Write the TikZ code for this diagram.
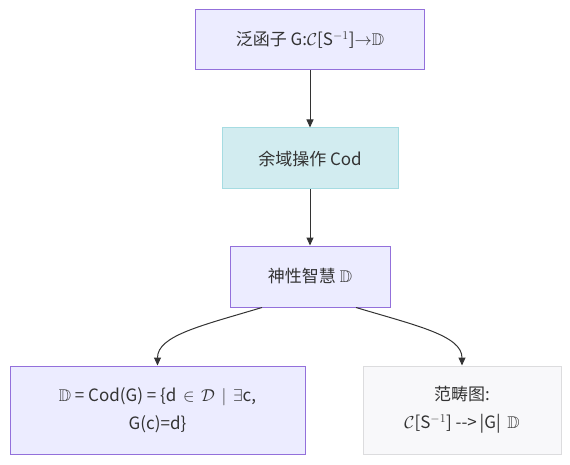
\documentclass[tikz,border=0pt]{standalone}
\usepackage{amssymb}
\usepackage{fontspec}
\setmainfont{Noto Sans CJK SC}
\usetikzlibrary{arrows.meta}
\definecolor{purpfill}{HTML}{ECECFF}
\definecolor{purpline}{HTML}{9370DB}
\definecolor{cyanfill}{HTML}{D2ECF0}
\definecolor{cyanline}{HTML}{A6DCE2}
\definecolor{grayfill}{HTML}{F8F8FA}
\definecolor{grayline}{HTML}{DCDCDE}
\definecolor{arrowc}{HTML}{333333}
\definecolor{textc}{HTML}{333333}
\tikzset{
  box/.style={draw=purpline, fill=purpfill, line width=1pt, inner sep=0pt, align=center, text=textc, font=\fontsize{17}{28}\selectfont},
  cbox/.style={box, draw=cyanline, fill=cyanfill},
  gbox/.style={box, draw=grayline, fill=grayfill},
  arr/.style={draw=arrowc, line width=1pt, -{Triangle[length=8pt,width=7pt]}},
}
\begin{document}
\begin{tikzpicture}[x=1pt,y=-1pt]
\useasboundingbox (0,0) rectangle (570,465);
\node[box, minimum width=229pt, minimum height=60pt] (n1) at (310,40) {泛函子 G:$\mathcal{C}$[S$^{-1}$]$\mathord{\rightarrow}\mathbb{D}$};
\node[cbox, minimum width=176pt, minimum height=61pt] (n2) at (310,158.5) {余域操作 Cod};
\node[box, minimum width=160pt, minimum height=61pt] (n3) at (310,276.5) {神性智慧 $\mathbb{D}$};
\node[box, minimum width=295pt, minimum height=88pt] (n4) at (157.5,410) {$\mathbb{D}$ = Cod(G) = \{d\, $\in$\, $\mathcal{D}$\, $\mid$\, $\exists$c,\\G(c)=d\}};
\node[gbox, minimum width=198pt, minimum height=88pt] (n5) at (462,410) {范畴图:\\$\mathcal{C}$[S$^{-1}$] -{}->\,|G|\, $\mathbb{D}$};
\draw[arr] (n1.south) -- (n2.north);
\draw[arr] (n2.south) -- (n3.north);
\draw[arr] ([xshift=-48pt]n3.south) .. controls +(-60,18) and +(0,-30) .. (n4.north);
\draw[arr] ([xshift=46pt]n3.south) .. controls +(60,18) and +(0,-30) .. (n5.north);
\end{tikzpicture}
\end{document}
